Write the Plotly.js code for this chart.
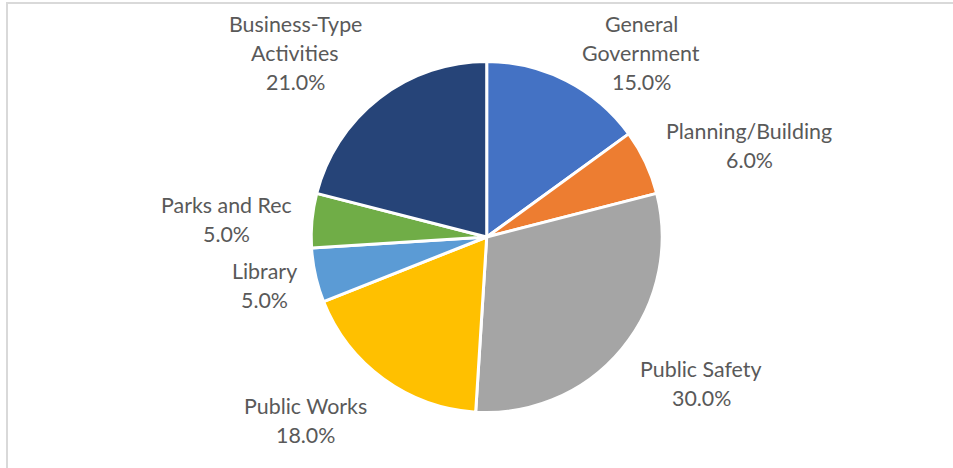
<!DOCTYPE html>
<html>
<head>
<meta charset="utf-8">
<script src="https://cdn.plot.ly/plotly-3.0.1.min.js"></script>
<style>
  html, body { margin: 0; padding: 0; background: #ffffff; }
  #chart { width: 953px; height: 468px; }
</style>
</head>
<body>
<div id="chart"></div>
<script>
// ---- data ----
const categories = ["General Government", "Planning/Building", "Public Safety", "Public Works", "Library", "Parks and Rec", "Business-Type Activities"];
const labelLines = [["General", "Government"], ["Planning/Building"], ["Public Safety"], ["Public Works"], ["Library"], ["Parks and Rec"], ["Business-Type", "Activities"]];
const shares = [15.0, 6.0, 30.0, 18.0, 5.0, 5.0, 21.0];
const sliceColors = ["#4472C4", "#ED7D31", "#A5A5A5", "#FFC000", "#5B9BD5", "#70AD47", "#264478"];

// ---- label placement (pixel centre x, first-line centre y) ----
const labelPosPx = [
  [641, 23], [749, 130], [701, 368], [305, 405], [264, 270], [226, 204], [295, 23]
];
const lineStep = 29;

const W = 953, H = 468;
const cx = 486.7, cy = 237, r = 175.5;

const total = shares.reduce((a, b) => a + b, 0);
const annotations = [];
categories.forEach((c, i) => {
  const pct = (shares[i] / total * 100).toFixed(1) + "%";
  const lines = labelLines[i].concat([pct]);
  const [px, py] = labelPosPx[i];
  lines.forEach((t, k) => {
    annotations.push({
      xref: "paper", yref: "paper",
      x: px / W, y: 1 - (py + k * lineStep + 1) / H,
      xanchor: "center", yanchor: "middle",
      text: t,
      showarrow: false,
      font: { family: "Lato, 'Open Sans', sans-serif", size: 21.4, color: "#595959" }
    });
  });
});

const trace = {
  type: "pie",
  labels: categories,
  values: shares,
  sort: false,
  direction: "clockwise",
  rotation: 0,
  textinfo: "none",
  hoverinfo: "label+percent",
  marker: { colors: sliceColors, line: { color: "#ffffff", width: 3 } },
  domain: {
    x: [(cx - r) / W, (cx + r) / W],
    y: [1 - (cy + r) / H, 1 - (cy - r) / H]
  },
  showlegend: false
};

const layout = {
  width: W, height: H,
  margin: { l: 0, r: 0, t: 0, b: 0 },
  paper_bgcolor: "#ffffff",
  plot_bgcolor: "#ffffff",
  showlegend: false,
  annotations: annotations,
  shapes: [{
    type: "rect", xref: "paper", yref: "paper",
    x0: 7 / W, x1: 1.02, y0: -0.02, y1: 1 - 3 / H,
    line: { color: "#d9d9d9", width: 2 },
    fillcolor: "rgba(0,0,0,0)"
  }]
};

Plotly.newPlot("chart", [trace], layout, { staticPlot: true, displayModeBar: false });
</script>
</body>
</html>
